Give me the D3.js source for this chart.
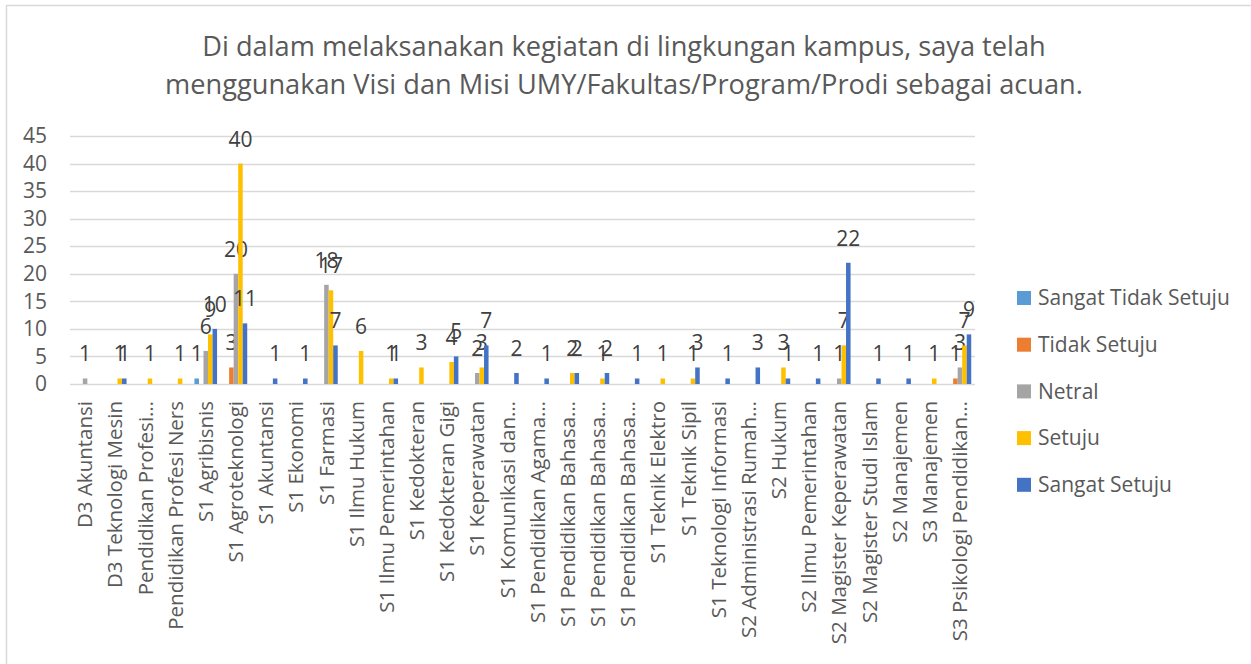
<!DOCTYPE html>
<html><head><meta charset="utf-8">
<script src="https://cdn.jsdelivr.net/npm/d3@7"></script>
<style>body{margin:0;background:#fff;}svg{display:block;font-family:"Open Sans",sans-serif;}</style>
</head><body><svg id="c" width="1251" height="664"></svg>
<script>
const categories = ["D3 Akuntansi","D3 Teknologi Mesin","Pendidikan Profesi…","Pendidikan Profesi Ners","S1 Agribisnis","S1 Agroteknologi","S1 Akuntansi","S1 Ekonomi","S1 Farmasi","S1 Ilmu Hukum","S1 Ilmu Pemerintahan","S1 Kedokteran","S1 Kedokteran Gigi","S1 Keperawatan","S1 Komunikasi dan…","S1 Pendidikan Agama…","S1 Pendidikan Bahasa…","S1 Pendidikan Bahasa…","S1 Pendidikan Bahasa…","S1 Teknik Elektro","S1 Teknik Sipil","S1 Teknologi Informasi","S2 Administrasi Rumah…","S2 Hukum","S2 Ilmu Pemerintahan","S2 Magister Keperawatan","S2 Magister Studi Islam","S2 Manajemen","S3 Manajemen","S3 Psikologi Pendidikan…"];
const seriesNames = ["Sangat Tidak Setuju","Tidak Setuju","Netral","Setuju","Sangat Setuju"];
const sangatTidakSetuju = [0,0,0,0,1,0,0,0,0,0,0,0,0,0,0,0,0,0,0,0,0,0,0,0,0,0,0,0,0,0];
const tidakSetuju       = [0,0,0,0,0,3,0,0,0,0,0,0,0,0,0,0,0,0,0,0,0,0,0,0,0,0,0,0,0,1];
const netral            = [1,0,0,0,6,20,0,0,18,0,0,0,0,2,0,0,0,0,0,0,0,0,0,0,0,1,0,0,0,3];
const setuju            = [0,1,1,1,9,40,0,0,17,6,1,3,4,3,0,0,2,1,0,1,1,0,0,3,0,7,0,0,1,7];
const sangatSetuju      = [0,1,0,0,10,11,1,1,7,0,1,0,5,7,2,1,2,2,1,0,3,1,3,1,1,22,1,1,0,9];
const yTicks = [0,5,10,15,20,25,30,35,40,45];
const colors = ["#5B9BD5","#ED7D31","#A5A5A5","#FFC000","#4472C4"];
const title = ["Di dalam melaksanakan kegiatan di lingkungan kampus, saya telah","menggunakan Visi dan Misi UMY/Fakultas/Program/Prodi sebagai acuan."];

const values = [sangatTidakSetuju,tidakSetuju,netral,setuju,sangatSetuju];
const svg = d3.select("#c");
svg.append("rect").attr("x",6.5).attr("y",5.5).attr("width",1300).attr("height",700)
  .attr("fill","#fff").attr("stroke","#d9d9d9").attr("stroke-width",1.5);

svg.selectAll("text.title").data(title).enter().append("text")
  .attr("x",624).attr("y",(d,i)=>56+i*38).attr("text-anchor","middle")
  .attr("font-size",27.2).attr("fill","#595959").text(d=>d);

const x = d3.scaleBand().domain(d3.range(categories.length)).range([70,975]).paddingInner(0.25).paddingOuter(0.125);
const xs = d3.scaleBand().domain(d3.range(5)).range([0,x.bandwidth()]);
const y = d3.scaleLinear().domain([0,45]).range([384,136]);

const g = svg.append("g");
g.selectAll("line.grid").data(yTicks).enter().append("line")
  .attr("x1",70).attr("x2",975).attr("y1",d=>Math.round(y(d))+0.5).attr("y2",d=>Math.round(y(d))+0.5)
  .attr("stroke","#d9d9d9").attr("stroke-width",1.5);

const yAxis = d3.axisLeft(y).tickValues(yTicks).tickSize(0).tickPadding(0);
const ya = svg.append("g").attr("transform","translate(47,0)").call(yAxis);
ya.select(".domain").remove();
ya.selectAll("text").attr("font-size",21).attr("fill","#595959").attr("font-family","Open Sans");

const xAxis = d3.axisBottom(x).tickFormat(i=>categories[i]).tickSize(0);
const xa = svg.append("g").attr("transform","translate(0,384)").call(xAxis);
xa.select(".domain").remove();
xa.selectAll("text").attr("font-size",20.5).attr("fill","#595959").attr("font-family","Open Sans")
  .attr("text-anchor","end").attr("transform","rotate(-90)").attr("x",-17).attr("y",0).attr("dy","0.35em");

values.forEach((arr,s)=>{
  const sg = svg.append("g");
  const data = arr.map((v,i)=>({v,i})).filter(d=>d.v>0);
  sg.selectAll("rect").data(data).enter().append("rect")
    .attr("x",d=>x(d.i)+xs(s)).attr("width",xs.bandwidth())
    .attr("y",d=>y(d.v)).attr("height",d=>y(0)-y(d.v)).attr("fill",colors[s]);
  sg.selectAll("text").data(data).enter().append("text")
    .attr("x",d=>x(d.i)+xs(s)+xs.bandwidth()/2).attr("y",d=>y(d.v)-17)
    .attr("text-anchor","middle").attr("font-size",21).attr("fill","#404040").text(d=>d.v);
});

const lg = svg.append("g").attr("transform","translate(1017,298)");
seriesNames.forEach((n,i)=>{
  const r = lg.append("g").attr("transform",`translate(0,${i*46.7})`);
  r.append("rect").attr("x",0).attr("y",-7).attr("width",14).attr("height",14).attr("fill",colors[i]);
  r.append("text").attr("x",21).attr("y",0).attr("dy","0.35em").attr("font-size",21).attr("fill","#595959").text(n);
});
</script></body></html>
